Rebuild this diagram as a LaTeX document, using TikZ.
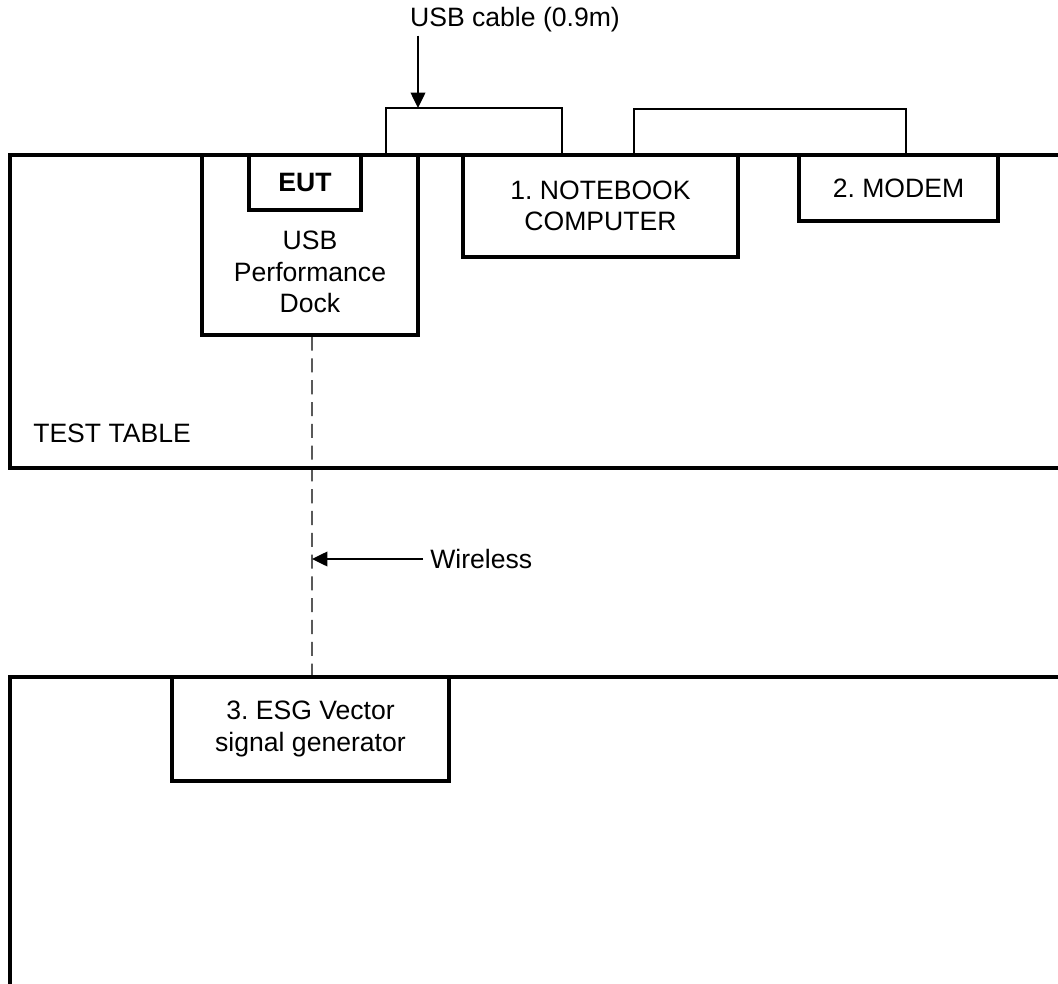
\documentclass[tikz,border=0pt]{standalone}
\usepackage{fontspec}
\setmainfont{Liberation Sans}
\usetikzlibrary{arrows.meta, positioning, calc}
\frenchspacing

\begin{document}
\begin{tikzpicture}[x=0.025cm, y=-0.025cm,
        every node/.style={font=\fontsize{18.9}{22.4}\selectfont, inner sep=0pt},
        box/.style={draw, line width=2.3pt, align=center},
        tbl/.style={line width=2.3pt},
        cable/.style={line width=1pt},
        wireln/.style={line width=1pt, dash pattern=on 10pt off 5.5pt},
        ptr/.style={line width=1.1pt, -{Triangle[length=11pt,width=10.5pt]}}
      ]
        \useasboundingbox (0,0) rectangle (1058,984);

        % test table and floor
        \draw[tbl] (1070,155) -- (10,155) -- (10,468) -- (1070,468);
        \draw[tbl] (1070,677) -- (10,677) -- (10,994);
        \node[anchor=west] (tt) at (33,433) {TEST TABLE};

        \node[box, minimum width=216*0.025cm, minimum height=180*0.025cm] (dock) at (310,245) {};
        \node[align=center] (docktxt) at (310,272) {USB\\Performance\\Dock};
        \node[box, minimum width=112*0.025cm, minimum height=55*0.025cm,
              font=\fontsize{18.9}{22.4}\selectfont\bfseries] (eut) at (305,182.5) {EUT};
        \node[box, minimum width=275*0.025cm, minimum height=102*0.025cm] (nb) at (600.5,206) {1. NOTEBOOK\\COMPUTER};
        \node[box, minimum width=199*0.025cm, minimum height=66*0.025cm] (modem) at (898.5,188) {2. MODEM};
        \node[box, minimum width=277*0.025cm, minimum height=104*0.025cm] (esg) at (310.5,729) {3. ESG Vector\\signal generator};

        % cables
        \coordinate (c1) at (386,108);
        \coordinate (c2) at (562,108);
        \coordinate (c3) at (634,109);
        \coordinate (c4) at (906,109);
        \draw[cable] (c1 |- dock.north) -- (c1) -- (c2) -- (c2 |- nb.north);
        \draw[cable] (c3 |- nb.north) -- (c3) -- (c4) -- (c4 |- modem.north);

        \node (usb) at (515,20) {USB cable (0.9m)};
        \coordinate (usbtip) at (418,108);
        \draw[ptr] (usbtip |- usb.south) ++(0,3) -- (usbtip);

        % wireless link
        \draw[wireln] (dock.south) ++(2,0) -- ($(esg.north)+(1.5,0)$);
        \node[anchor=west, inner sep=5pt] (wl) at (423,559) {Wireless};
        \draw[ptr] (wl.west) -- (312,559);
      \end{tikzpicture}
\end{document}
